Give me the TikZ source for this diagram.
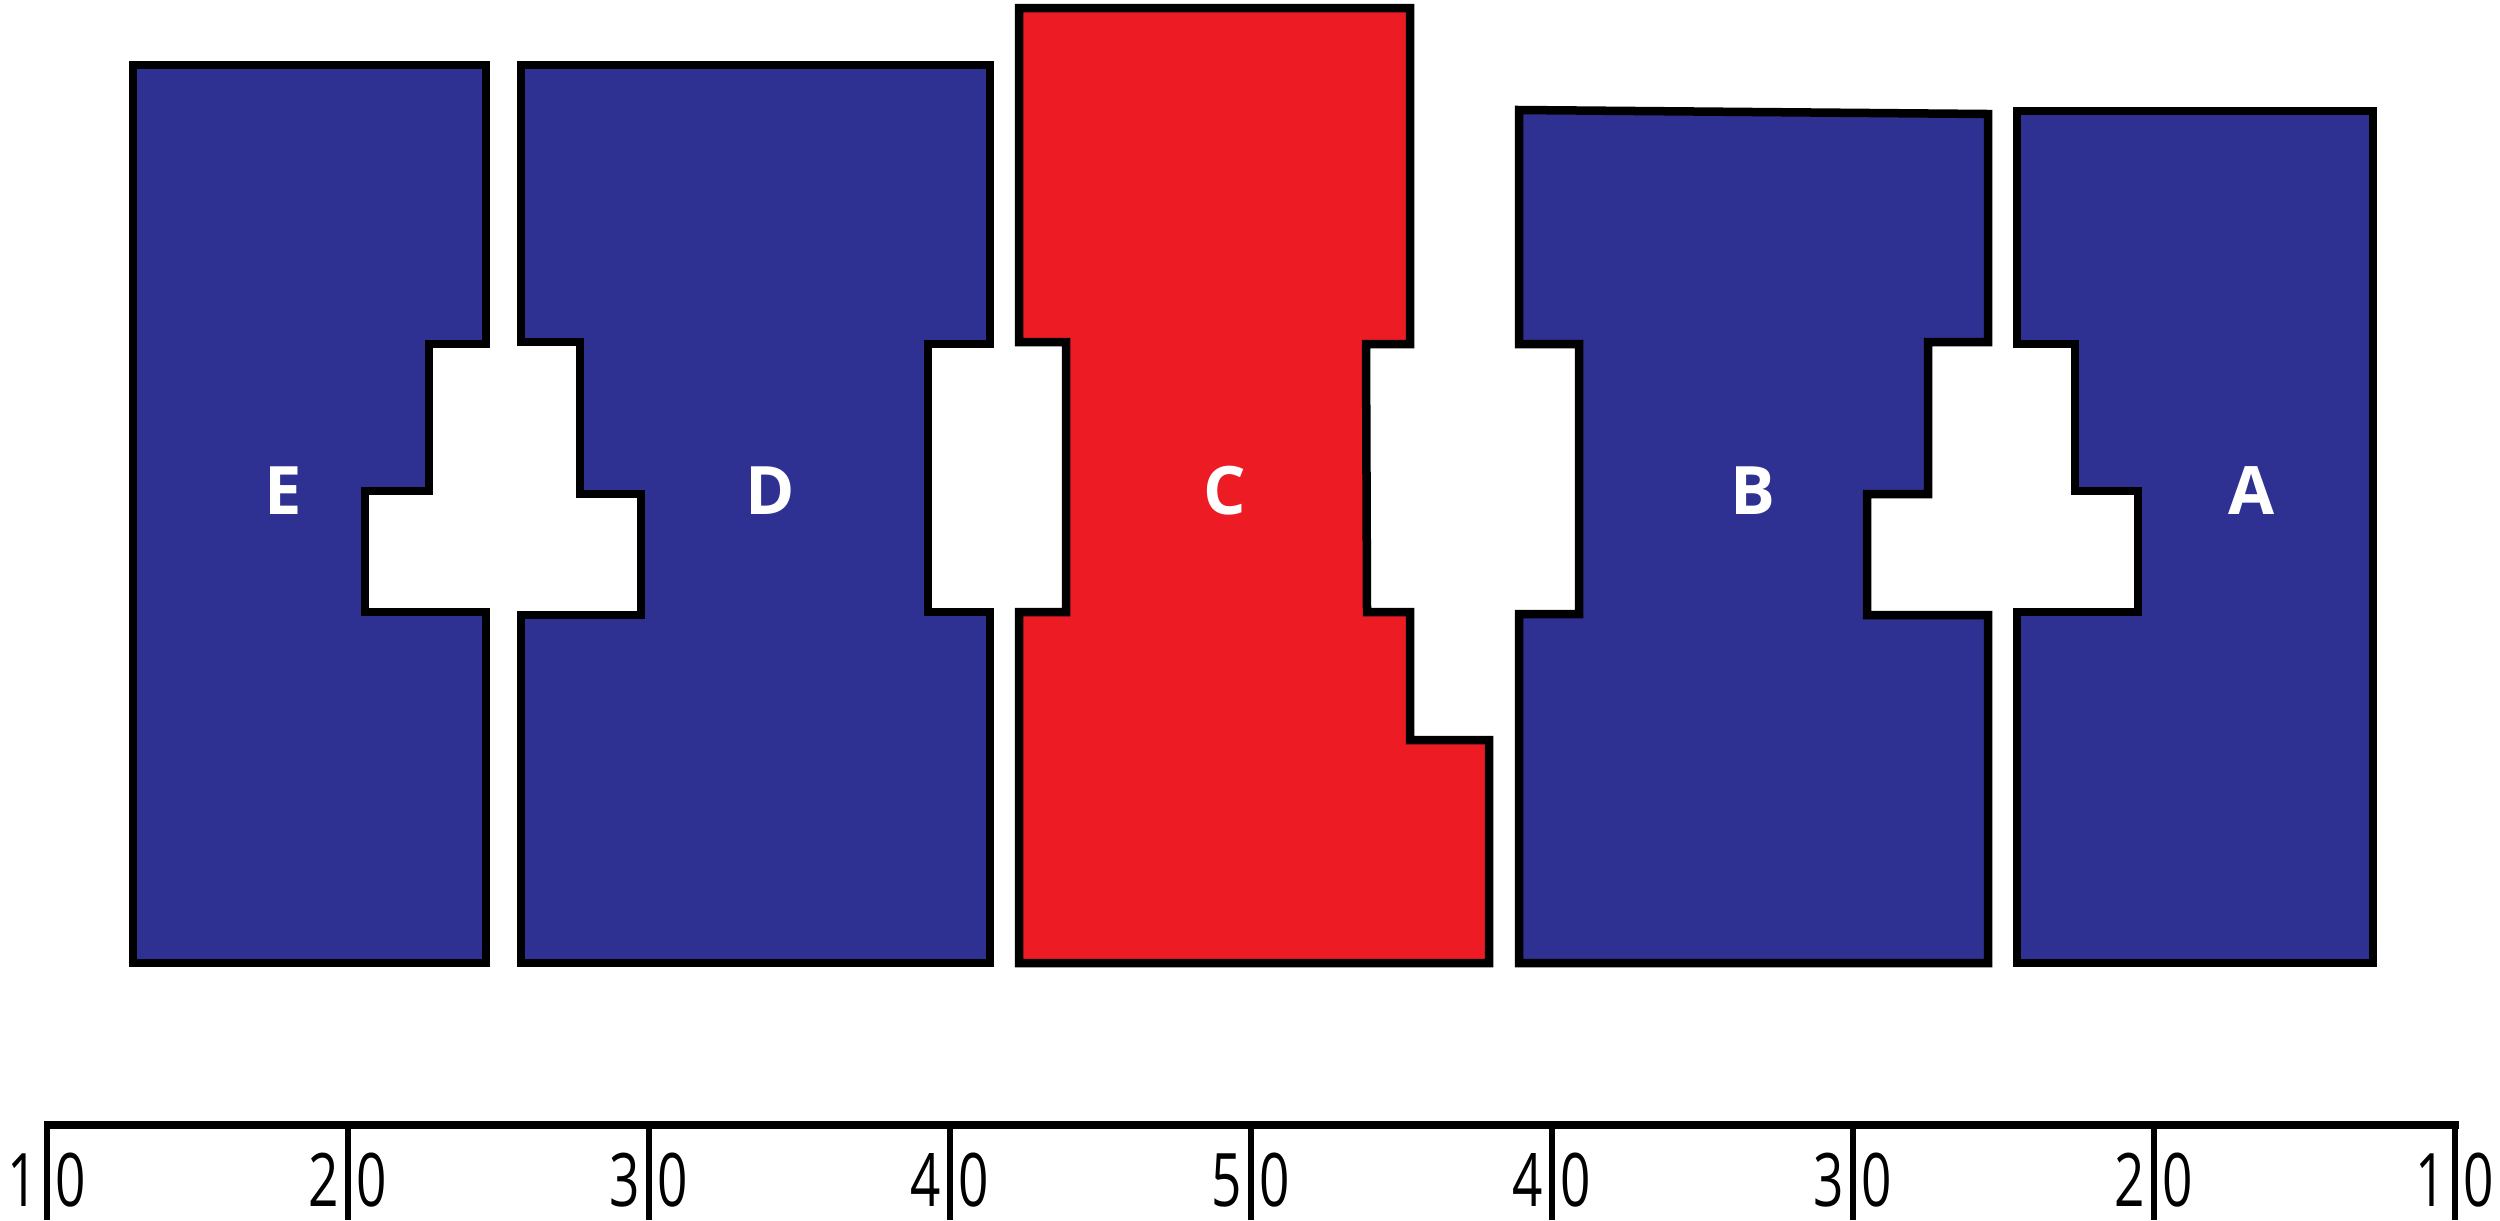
\documentclass[tikz,border=0pt]{standalone}
\usepackage{fontspec}
\setmainfont{Open Sans}
\usetikzlibrary{positioning}
\definecolor{pieceblue}{HTML}{2E3192}
\definecolor{piecered}{HTML}{ED1C24}

\begin{document}
\begin{tikzpicture}[x=0.01cm, y=-0.01cm,
  piece/.style={draw=black, line width=0.085cm, line join=miter},
  bluepiece/.style={piece, fill=pieceblue},
  redpiece/.style={piece, fill=piecered},
  letter/.style={text=white, font=\fontsize{19}{19}\selectfont\bfseries, inner sep=0pt},
  digit/.style={font=\fontsize{21}{21}\selectfont, inner sep=0pt}]
	\useasboundingbox (0,0) rectangle (2500,1220);
	\draw[bluepiece] (133,65) -- (486,65) -- (486,344) -- (429,344) -- (429,491) -- (365,491) -- (365,612) -- (486,612) -- (486,963) -- (133,963) -- cycle;
	\draw[bluepiece] (521,65) -- (990,65) -- (990,344) -- (928,344) -- (928,612) -- (990,612) -- (990,963) -- (521,963) -- (521,615) -- (641,615) -- (641,494) -- (580,494) -- (580,342) -- (521,342) -- cycle;
	\draw[redpiece] (1019,8) -- (1410,8) -- (1410,344) -- (1366,344) -- (1367,612) -- (1410,612) -- (1410,740) -- (1489,740) -- (1489,963) -- (1019,963) -- (1019,612) -- (1066,612) -- (1066,342) -- (1019,342) -- cycle;
	\draw[bluepiece] (1519,110) -- (1988,114) -- (1988,342) -- (1928,342) -- (1928,494) -- (1867,494) -- (1867,615) -- (1988,615) -- (1988,963) -- (1519,963) -- (1519,614) -- (1579,614) -- (1579,344) -- (1519,344) -- cycle;
	\draw[bluepiece] (2017,111) -- (2373,111) -- (2373,963) -- (2017,963) -- (2017,612) -- (2138,612) -- (2138,491) -- (2075,491) -- (2075,344) -- (2017,344) -- cycle;
	\node[letter] (labelE) at (283,491) {E};
	\node[letter] (labelD) at (770,491) {D};
	\node[letter] (labelC) at (1225,491) {C};
	\node[letter] (labelB) at (1753,491) {B};
	\node[letter] (labelA) at (2252,491) {A};
	\draw[line width=0.085cm] (44,1125) coordinate (rulerstart) -- (2459,1125) coordinate (rulerend);
	\foreach \i/\a in {0/1,1/2,2/3,3/4,4/5,5/4,6/3,7/2,8/1} {
		\coordinate (tick\i) at (47+301*\i,1125);
		\draw[line width=0.065cm] (tick\i) -- ++(0,95);
		\coordinate (num\i) at (47+301*\i,1180);
		\node[digit, left=0.08cm of num\i] (high\i) {\scalebox{0.72}[1]{\a}};
		\node[digit, right=0.08cm of num\i] (low\i) {\scalebox{0.72}[1]{0}};
	}
\end{tikzpicture}
\end{document}
